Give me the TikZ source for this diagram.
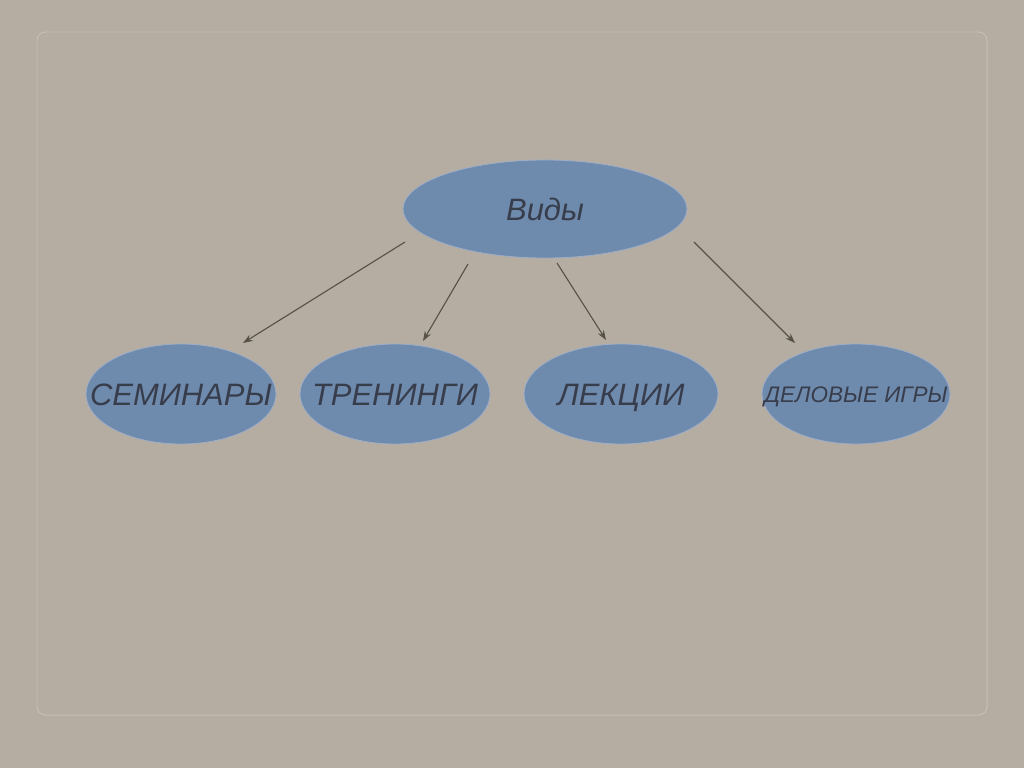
\documentclass[tikz,border=0pt]{standalone}
\usepackage{fontspec}
\setmainfont{Liberation Sans}
\usetikzlibrary{shapes.geometric,arrows.meta}
\definecolor{paper}{rgb}{0.71,0.68,0.63}
\definecolor{frameline}{rgb}{0.78,0.75,0.70}
\definecolor{myblue}{rgb}{0.43,0.54,0.68}
\definecolor{rimblue}{rgb}{0.62,0.68,0.78}
\definecolor{inkgray}{rgb}{0.22,0.24,0.30}
\definecolor{linegray}{rgb}{0.34,0.32,0.28}
\tikzset{oval/.style={ellipse, fill=myblue, draw=rimblue, line width=0.6pt, inner sep=0pt, minimum width=#1, minimum height=2.5cm, text=inkgray, text height=15.8pt, text depth=0pt, font=\itshape\fontsize{22}{24}\selectfont}}
\tikzset{link/.style={draw=linegray, line width=0.8pt, -{Stealth[length=7pt,width=5pt]}}}

\begin{document}
\begin{tikzpicture}[x=0.025cm,y=-0.025cm]
\fill[paper] (0,0) rectangle (1024,768);
\draw[frameline, line width=0.7pt, rounded corners=6pt] (37,32) rectangle (987,715);
\node[oval=7.1cm, minimum height=2.45cm] (vidy) at (545,209) {\makebox[0pt]{Виды}};
\node[oval=4.75cm] (sem) at (181,394) {\makebox[0pt]{СЕМИНАРЫ}};
\node[oval=4.75cm] (tren) at (395,394) {\makebox[0pt]{ТРЕНИНГИ}};
\node[oval=4.85cm] (lek) at (621,394) {\makebox[0pt]{ЛЕКЦИИ}};
\node[oval=4.7cm, text height=11.5pt, font=\itshape\fontsize{16}{18}\selectfont] (igry) at (856,394) {\makebox[0pt]{ДЕЛОВЫЕ ИГРЫ}};
\coordinate (s1) at (405,242);
\coordinate (e1) at (243,343);
\coordinate (s2) at (468,264);
\coordinate (e2) at (423,341);
\coordinate (s3) at (557,263);
\coordinate (e3) at (606,340);
\coordinate (s4) at (694,242);
\coordinate (e4) at (795,343);
\draw[link] (s1) -- (e1);
\draw[link] (s2) -- (e2);
\draw[link] (s3) -- (e3);
\draw[link] (s4) -- (e4);
\end{tikzpicture}
\end{document}
